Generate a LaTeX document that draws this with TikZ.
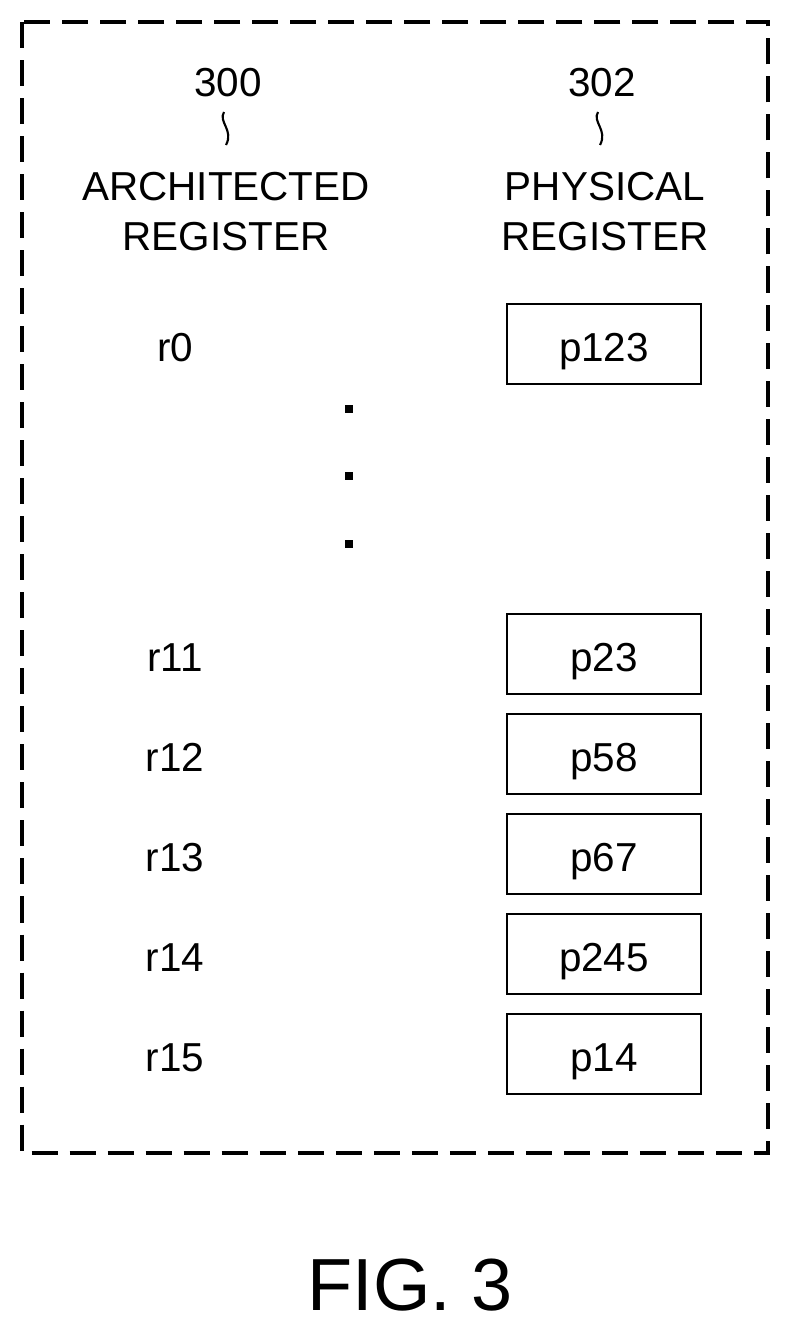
\documentclass[tikz,border=0pt]{standalone}
\usepackage{fontspec}
\setmainfont{Liberation Sans}
\begin{document}
\begin{tikzpicture}[x=0.01cm,y=-0.01cm,
  lbl/.style={font=\fontsize{11.5pt}{13pt}\selectfont,inner sep=0},
  hdr/.style={font=\fontsize{11.5pt}{14.2pt}\selectfont,inner sep=0,align=center},
  preg/.style={draw,line width=0.6pt,minimum width=1.94cm,minimum height=0.8cm,inner sep=0},
  squig/.style={line width=0.6pt}]
\useasboundingbox (0,0) rectangle (790,1330);
\draw[line width=1.2pt,dash pattern=on 0.26cm off 0.12cm] (22,22) rectangle (768,1153);
\node[lbl] (n300) at (228,83) {300};
\node[lbl] (n302) at (602,83) {302};
\node[hdr,anchor=base] (h1) at (226,250) {ARCHITECTED\\REGISTER};
\node[hdr,anchor=base] (h2) at (605,250) {PHYSICAL\\REGISTER};
\draw[squig] (224,112) .. controls (218,122) and (234,130) .. (226,145);
\draw[squig] (598,112) .. controls (592,122) and (608,130) .. (600,145);
\foreach \nm/\r/\p/\y in {a/r0/p123/344,b/r11/p23/654,c/r12/p58/754,d/r13/p67/854,e/r14/p245/954,f/r15/p14/1054}{
  \node[lbl,anchor=base] (r\nm) at (175,\y+17) {\r};
  \node[preg] (p\nm) at (604,\y) {};
  \node[lbl,anchor=base] (t\nm) at (604,\y+17) {\p};
}
\foreach \y/\n in {405/d1,472/d2,540/d3}{\fill (345,\y) coordinate (\n) rectangle ++(8,8);}
\node[font=\fontsize{21pt}{23pt}\selectfont,inner sep=0] (fig) at (410,1285) {FIG. 3};
\end{tikzpicture}
\end{document}
